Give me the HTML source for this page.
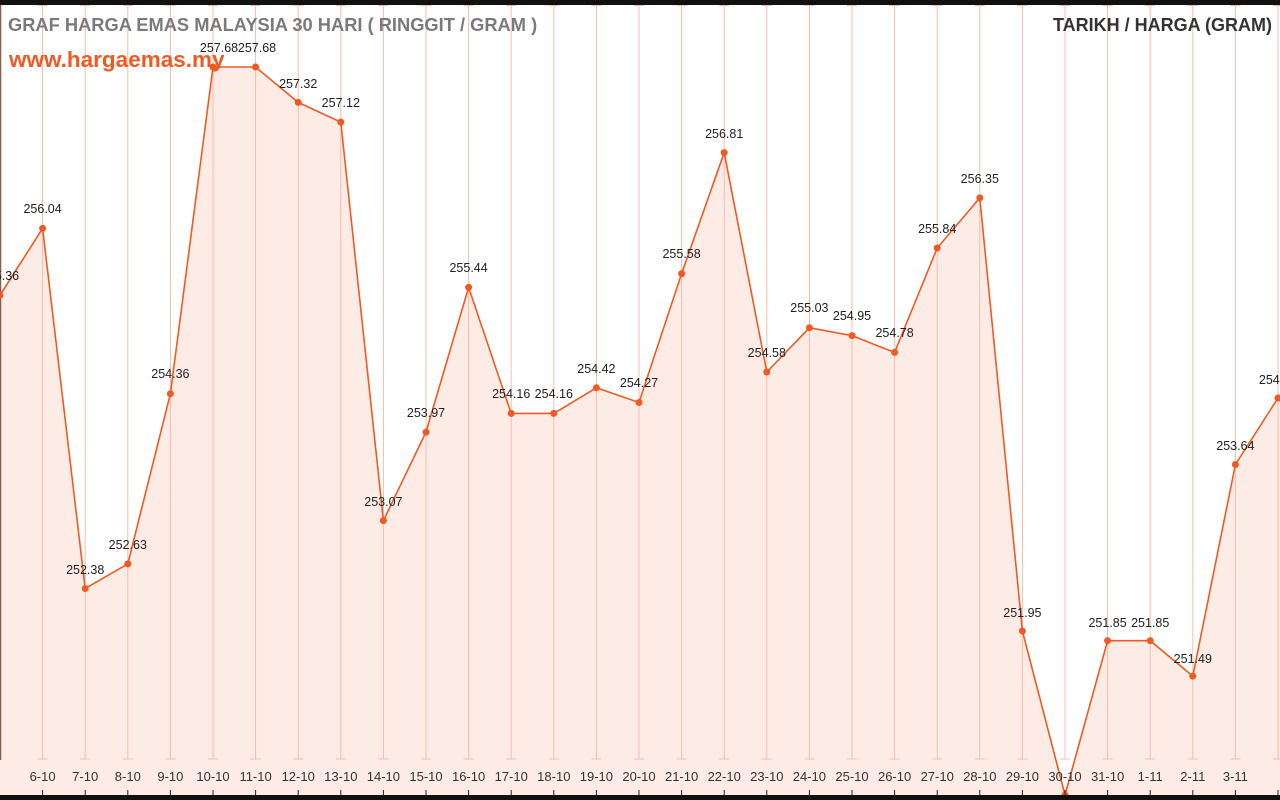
<!DOCTYPE html>
<html><head><meta charset="utf-8"><style>
html,body{margin:0;padding:0;background:#fff;width:1280px;height:800px;overflow:hidden}
svg{display:block}
.pl{font:12.5px "Liberation Sans",sans-serif;fill:#222;text-anchor:middle}
.xl{font:13px "Liberation Sans",sans-serif;fill:#333;text-anchor:middle}
</style></head><body>
<svg width="1280" height="800" viewBox="0 0 1280 800">
<rect x="0" y="0" width="1280" height="800" fill="#fff"/>
<polygon fill="#fdece6" points="0,795 0,295.3 42.6,228.4 85.2,588.5 127.8,563.9 170.4,393.7 213,67 255.6,67 298.2,102.4 340.8,122.1 383.4,520.6 426,432.1 468.6,287.4 511.2,413.4 553.8,413.4 596.4,387.8 639,402.5 681.6,273.6 724.2,152.6 766.8,372 809.4,327.8 852,335.6 894.6,352.4 937.2,248 979.8,197.9 1022.4,631 1065,795 1107.6,640.7 1150.2,640.7 1192.8,676.1 1235.4,464.5 1278,398 1280,398 1280,795"/>
<g id="grid" stroke="#f8bca8" stroke-width="1"></g>
<line x1="0.5" y1="5" x2="0.5" y2="760" stroke="#8a5a4a" stroke-width="1.5"/>
<polyline fill="none" stroke="#f05a22" stroke-width="1.6" points="0,295.3 42.6,228.4 85.2,588.5 127.8,563.9 170.4,393.7 213,67 255.6,67 298.2,102.4 340.8,122.1 383.4,520.6 426,432.1 468.6,287.4 511.2,413.4 553.8,413.4 596.4,387.8 639,402.5 681.6,273.6 724.2,152.6 766.8,372 809.4,327.8 852,335.6 894.6,352.4 937.2,248 979.8,197.9 1022.4,631 1065,795 1107.6,640.7 1150.2,640.7 1192.8,676.1 1235.4,464.5 1278,398"/>
<g id="dots" fill="#f05a22"></g>
<g>
<text class="pl" x="0" y="280">255.36</text>
<text class="pl" x="42.6" y="213">256.04</text>
<text class="pl" x="85.2" y="574">252.38</text>
<text class="pl" x="127.8" y="549">252.63</text>
<text class="pl" x="170.4" y="378">254.36</text>
<text class="pl" x="219" y="52">257.68</text>
<text class="pl" x="257" y="52">257.68</text>
<text class="pl" x="298.2" y="88">257.32</text>
<text class="pl" x="340.8" y="107">257.12</text>
<text class="pl" x="383.4" y="506">253.07</text>
<text class="pl" x="426" y="417">253.97</text>
<text class="pl" x="468.6" y="272">255.44</text>
<text class="pl" x="511.2" y="398">254.16</text>
<text class="pl" x="553.8" y="398">254.16</text>
<text class="pl" x="596.4" y="373">254.42</text>
<text class="pl" x="639" y="387">254.27</text>
<text class="pl" x="681.6" y="258">255.58</text>
<text class="pl" x="724.2" y="138">256.81</text>
<text class="pl" x="766.8" y="357">254.58</text>
<text class="pl" x="809.4" y="312">255.03</text>
<text class="pl" x="852" y="320">254.95</text>
<text class="pl" x="894.6" y="337">254.78</text>
<text class="pl" x="937.2" y="233">255.84</text>
<text class="pl" x="979.8" y="183">256.35</text>
<text class="pl" x="1022.4" y="617">251.95</text>
<text class="pl" x="1107.6" y="627">251.85</text>
<text class="pl" x="1150.2" y="627">251.85</text>
<text class="pl" x="1192.8" y="663">251.49</text>
<text class="pl" x="1235.4" y="450">253.64</text>
<text class="pl" x="1278" y="384">254.32</text>
</g>
<g>
<text class="xl" x="42.6" y="781">6-10</text>
<text class="xl" x="85.2" y="781">7-10</text>
<text class="xl" x="127.8" y="781">8-10</text>
<text class="xl" x="170.4" y="781">9-10</text>
<text class="xl" x="213" y="781">10-10</text>
<text class="xl" x="255.6" y="781">11-10</text>
<text class="xl" x="298.2" y="781">12-10</text>
<text class="xl" x="340.8" y="781">13-10</text>
<text class="xl" x="383.4" y="781">14-10</text>
<text class="xl" x="426" y="781">15-10</text>
<text class="xl" x="468.6" y="781">16-10</text>
<text class="xl" x="511.2" y="781">17-10</text>
<text class="xl" x="553.8" y="781">18-10</text>
<text class="xl" x="596.4" y="781">19-10</text>
<text class="xl" x="639" y="781">20-10</text>
<text class="xl" x="681.6" y="781">21-10</text>
<text class="xl" x="724.2" y="781">22-10</text>
<text class="xl" x="766.8" y="781">23-10</text>
<text class="xl" x="809.4" y="781">24-10</text>
<text class="xl" x="852" y="781">25-10</text>
<text class="xl" x="894.6" y="781">26-10</text>
<text class="xl" x="937.2" y="781">27-10</text>
<text class="xl" x="979.8" y="781">28-10</text>
<text class="xl" x="1022.4" y="781">29-10</text>
<text class="xl" x="1065" y="781">30-10</text>
<text class="xl" x="1107.6" y="781">31-10</text>
<text class="xl" x="1150.2" y="781">1-11</text>
<text class="xl" x="1192.8" y="781">2-11</text>
<text class="xl" x="1235.4" y="781">3-11</text>
</g>
<g id="ticks" stroke="#222" stroke-width="1"></g>
<rect x="0" y="0" width="1280" height="5" fill="#111"/>
<rect x="0" y="795" width="1280" height="5" fill="#111"/>
<text x="8" y="31" style="font:bold 18.3px 'Liberation Sans',sans-serif;fill:#7a7a7a">GRAF HARGA EMAS MALAYSIA 30 HARI ( RINGGIT / GRAM )</text>
<text x="9" y="67" style="font:bold 22.5px 'Liberation Sans',sans-serif;fill:#f05a22">www.hargaemas.my</text>
<text x="1272" y="31" text-anchor="end" style="font:bold 18px 'Liberation Sans',sans-serif;fill:#333">TARIKH / HARGA (GRAM)</text>
</svg>
<script>
var ns="http://www.w3.org/2000/svg",g=document.getElementById("grid"),d=document.getElementById("dots"),t=document.getElementById("ticks");
var ys=[295.3,228.4,588.5,563.9,393.7,67,67,102.4,122.1,520.6,432.1,287.4,413.4,413.4,387.8,402.5,273.6,152.6,372,327.8,335.6,352.4,248,197.9,631,795,640.7,640.7,676.1,464.5,398];
function L(p,a,b,c,e){var l=document.createElementNS(ns,"line");l.setAttribute("x1",a);l.setAttribute("y1",b);l.setAttribute("x2",c);l.setAttribute("y2",e);p.appendChild(l);}
for(var i=0;i<31;i++){var x=42.6*i;if(i>0){L(g,x,5,x,759);L(g,x-5,759,x+5,759);L(g,x-5,5.5,x+5,5.5);L(t,x,790,x,795);}
var c=document.createElementNS(ns,"circle");c.setAttribute("cx",x);c.setAttribute("cy",ys[i]);c.setAttribute("r",3.5);d.appendChild(c);}
</script>
</body></html>
